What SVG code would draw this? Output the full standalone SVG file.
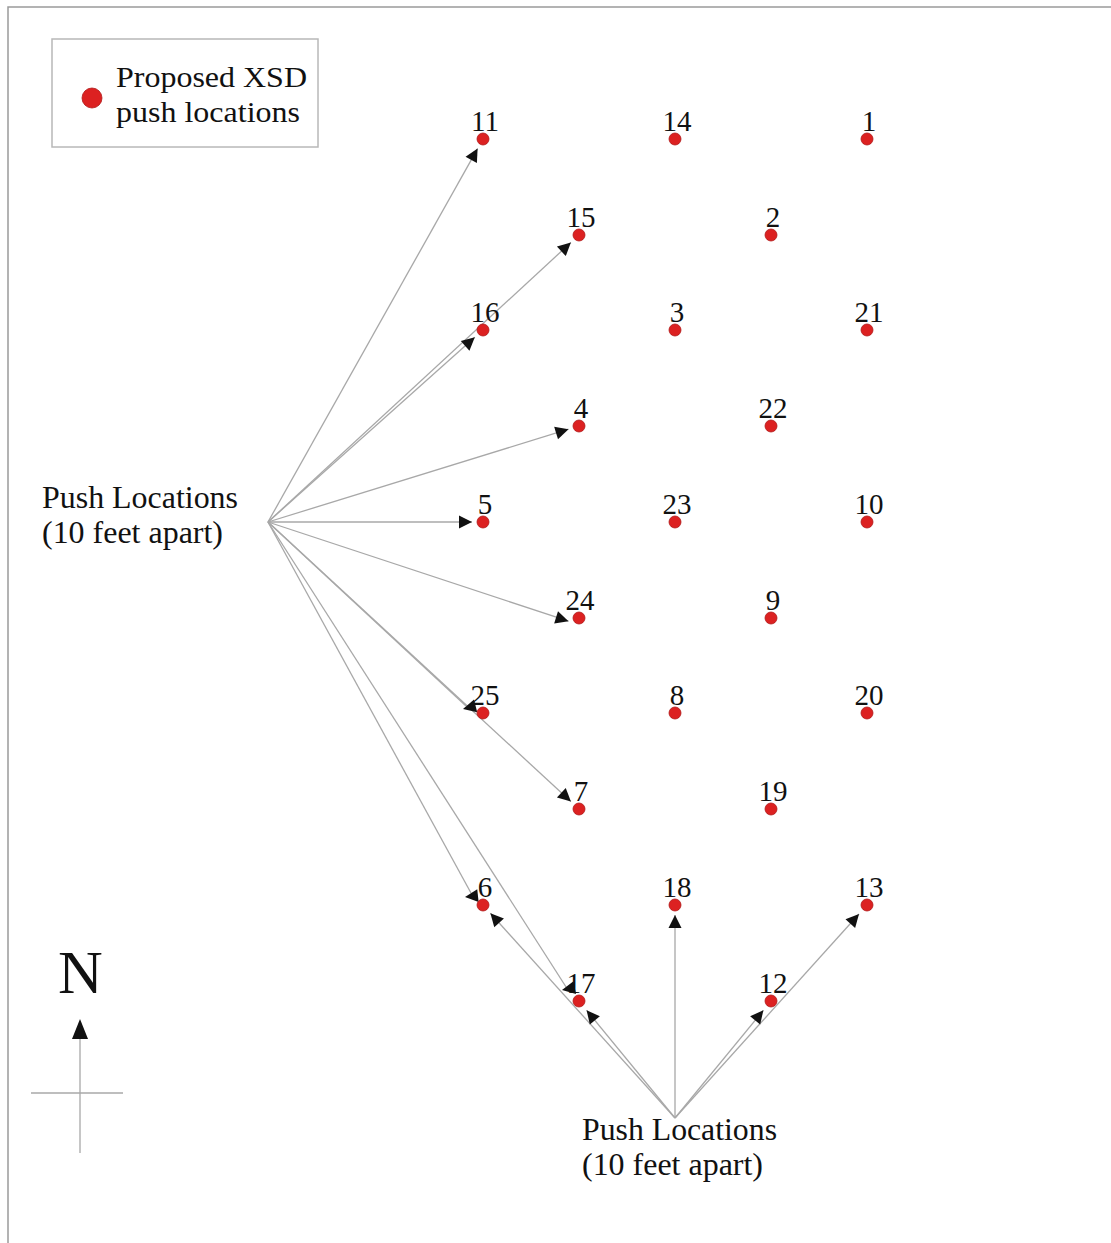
<svg xmlns="http://www.w3.org/2000/svg" xmlns:xlink="http://www.w3.org/1999/xlink" width="1111" height="1243" viewBox="0 0 1111 1243">
<style>
.bg{fill:#ffffff}
.frame{stroke:#9a9a9a;stroke-width:1.5;fill:none}
.con{stroke:#a8a8a8;stroke-width:1.3;fill:none}
.ah{fill:#111111}
.dot{fill:#dc2121;stroke:#b01818;stroke-width:0.8}
.num{font-family:"Liberation Serif","Times New Roman",serif;font-size:29px;fill:#111111;text-anchor:middle}
.lbl{font-family:"Liberation Serif","Times New Roman",serif;font-size:32px;fill:#111111}
.leg{font-family:"Liberation Serif","Times New Roman",serif;font-size:30px;fill:#111111}
</style>
<defs>
<path id="ah" class="ah" d="M0,0 L-13,-6.5 L-13,6.5 Z"/>
</defs>
<rect class="bg" x="0" y="0" width="1111" height="1243"/>
<path class="frame" d="M8,1243 L8,7 L1111,7"/>

<g id="legend">
<rect x="52" y="39" width="266" height="108" fill="#ffffff" stroke="#b8b8b8" stroke-width="1.5"/>
<circle class="dot" cx="92" cy="98" r="10"/>
<text class="leg" x="116" y="87" textLength="191" lengthAdjust="spacingAndGlyphs">Proposed XSD</text>
<text class="leg" x="116" y="122" textLength="184" lengthAdjust="spacingAndGlyphs">push locations</text>
</g>

<g id="connectors">
<line class="con" x1="268" y1="522" x2="477.6" y2="148.6"/>
<line class="con" x1="268" y1="522" x2="474.8" y2="337.3"/>
<line class="con" x1="268" y1="522" x2="570.9" y2="242.5"/>
<line class="con" x1="268" y1="522" x2="568.5" y2="429.2"/>
<line class="con" x1="268" y1="522" x2="472" y2="522"/>
<line class="con" x1="268" y1="522" x2="568.5" y2="621.2"/>
<line class="con" x1="268" y1="522" x2="466" y2="706"/>
<line class="con" x1="268" y1="522" x2="570.9" y2="801.5"/>
<line class="con" x1="268" y1="522" x2="471" y2="893"/>
<line class="con" x1="268" y1="522" x2="568" y2="990"/>
<line class="con" x1="675" y1="1118" x2="675" y2="915"/>
<line class="con" x1="675" y1="1118" x2="859" y2="914"/>
<line class="con" x1="675" y1="1118" x2="763.4" y2="1010.3"/>
<line class="con" x1="675" y1="1118" x2="586.6" y2="1010.3"/>
<line class="con" x1="675" y1="1118" x2="490.4" y2="913.2"/>
<use xlink:href="#ah" transform="translate(477.6,148.6) rotate(-60.7)"/>
<use xlink:href="#ah" transform="translate(474.8,337.3) rotate(-41.8)"/>
<use xlink:href="#ah" transform="translate(570.9,242.5) rotate(-42.7)"/>
<use xlink:href="#ah" transform="translate(568.5,429.2) rotate(-17.2)"/>
<use xlink:href="#ah" transform="translate(472,522) rotate(0)"/>
<use xlink:href="#ah" transform="translate(568.5,621.2) rotate(17.2)"/>
<use xlink:href="#ah" transform="translate(463,709) rotate(166)"/>
<use xlink:href="#ah" transform="translate(570.9,801.5) rotate(42.7)"/>
<use xlink:href="#ah" transform="translate(465,897) rotate(174)"/>
<use xlink:href="#ah" transform="translate(562,990) rotate(169)"/>
<use xlink:href="#ah" transform="translate(675,915) rotate(-90)"/>
<use xlink:href="#ah" transform="translate(859,914) rotate(-48)"/>
<use xlink:href="#ah" transform="translate(763.4,1010.3) rotate(-50.6)"/>
<use xlink:href="#ah" transform="translate(586.6,1010.3) rotate(-129.4)"/>
<use xlink:href="#ah" transform="translate(490.4,913.2) rotate(-132)"/>
</g>

<g id="node-11"><circle class="dot" cx="483" cy="139" r="6"/><text class="num" x="485" y="131">11</text></g>
<g id="node-14"><circle class="dot" cx="675" cy="139" r="6"/><text class="num" x="677" y="131">14</text></g>
<g id="node-1"><circle class="dot" cx="867" cy="139" r="6"/><text class="num" x="869" y="131">1</text></g>
<g id="node-15"><circle class="dot" cx="579" cy="235" r="6"/><text class="num" x="581" y="227">15</text></g>
<g id="node-2"><circle class="dot" cx="771" cy="235" r="6"/><text class="num" x="773" y="227">2</text></g>
<g id="node-16"><circle class="dot" cx="483" cy="330" r="6"/><text class="num" x="485" y="322">16</text></g>
<g id="node-3"><circle class="dot" cx="675" cy="330" r="6"/><text class="num" x="677" y="322">3</text></g>
<g id="node-21"><circle class="dot" cx="867" cy="330" r="6"/><text class="num" x="869" y="322">21</text></g>
<g id="node-4"><circle class="dot" cx="579" cy="426" r="6"/><text class="num" x="581" y="418">4</text></g>
<g id="node-22"><circle class="dot" cx="771" cy="426" r="6"/><text class="num" x="773" y="418">22</text></g>
<g id="node-5"><circle class="dot" cx="483" cy="522" r="6"/><text class="num" x="485" y="514">5</text></g>
<g id="node-23"><circle class="dot" cx="675" cy="522" r="6"/><text class="num" x="677" y="514">23</text></g>
<g id="node-10"><circle class="dot" cx="867" cy="522" r="6"/><text class="num" x="869" y="514">10</text></g>
<g id="node-24"><circle class="dot" cx="579" cy="618" r="6"/><text class="num" x="580" y="610">24</text></g>
<g id="node-9"><circle class="dot" cx="771" cy="618" r="6"/><text class="num" x="773" y="610">9</text></g>
<g id="node-25"><circle class="dot" cx="483" cy="713" r="6"/><text class="num" x="485" y="705">25</text></g>
<g id="node-8"><circle class="dot" cx="675" cy="713" r="6"/><text class="num" x="677" y="705">8</text></g>
<g id="node-20"><circle class="dot" cx="867" cy="713" r="6"/><text class="num" x="869" y="705">20</text></g>
<g id="node-7"><circle class="dot" cx="579" cy="809" r="6"/><text class="num" x="581" y="801">7</text></g>
<g id="node-19"><circle class="dot" cx="771" cy="809" r="6"/><text class="num" x="773" y="801">19</text></g>
<g id="node-6"><circle class="dot" cx="483" cy="905" r="6"/><text class="num" x="485" y="897">6</text></g>
<g id="node-18"><circle class="dot" cx="675" cy="905" r="6"/><text class="num" x="677" y="897">18</text></g>
<g id="node-13"><circle class="dot" cx="867" cy="905" r="6"/><text class="num" x="869" y="897">13</text></g>
<g id="node-17"><circle class="dot" cx="579" cy="1001" r="6"/><text class="num" x="581" y="993">17</text></g>
<g id="node-12"><circle class="dot" cx="771" cy="1001" r="6"/><text class="num" x="773" y="993">12</text></g>

<g id="push-left">
<text class="lbl" x="42" y="508" textLength="196" lengthAdjust="spacingAndGlyphs">Push Locations</text>
<text class="lbl" x="42" y="543" textLength="181" lengthAdjust="spacingAndGlyphs">(10 feet apart)</text>
</g>
<g id="push-bottom">
<text class="lbl" x="582" y="1140" textLength="195" lengthAdjust="spacingAndGlyphs">Push Locations</text>
<text class="lbl" x="582" y="1175" textLength="181" lengthAdjust="spacingAndGlyphs">(10 feet apart)</text>
</g>

<g id="north">
<text x="58" y="993" font-family="'Liberation Serif','Times New Roman',serif" font-size="62" fill="#111111">N</text>
<line class="con" x1="80" y1="1036" x2="80" y2="1153"/>
<line class="con" x1="31" y1="1093" x2="123" y2="1093"/>
<path class="ah" d="M80,1019 L72,1039 L88,1039 Z"/>
</g>
</svg>
